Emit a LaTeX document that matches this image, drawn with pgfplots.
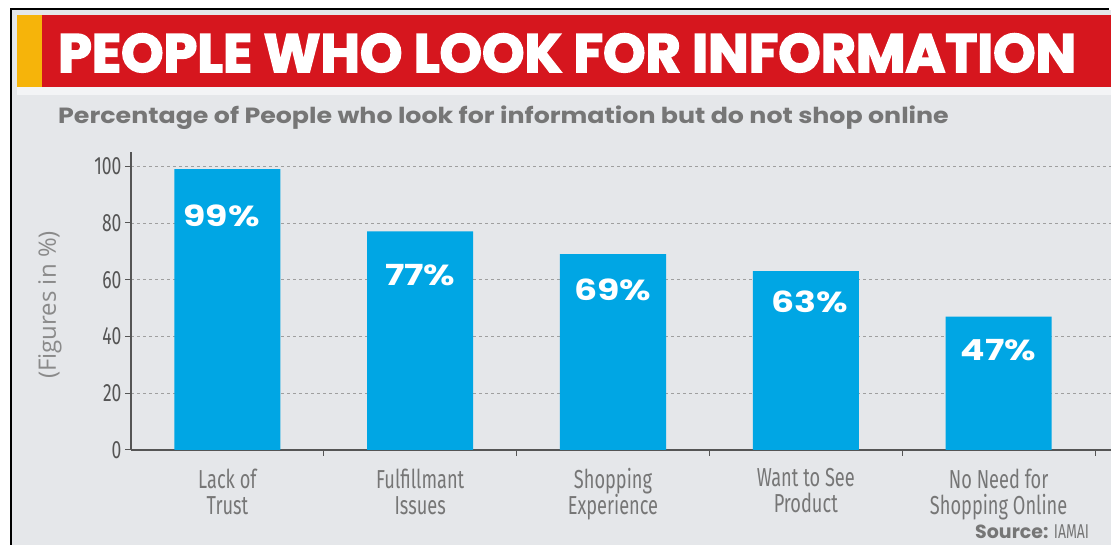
\documentclass[border=0pt]{standalone}
\usepackage{pgfplots}
\pgfplotsset{compat=1.18}
\usepackage{fontspec}
\setmainfont{Open Sans}
\newfontfamily\condfont[FakeStretch=0.7]{Fira Sans}
\newfontfamily\geofont{Poppins}
\newfontfamily\widefont[FakeStretch=1.15]{Poppins}
\newfontfamily\labfont[FakeStretch=1.25]{Poppins}
\newfontfamily\heavyfont[FakeBold=3]{Poppins}

\definecolor{panel}{RGB}{229,231,234}
\definecolor{hdred}{RGB}{214,22,30}
\definecolor{hdyel}{RGB}{246,180,10}
\definecolor{barblue}{RGB}{0,166,228}
\definecolor{txtgray}{RGB}{118,118,118}
\definecolor{axgray}{RGB}{85,85,85}

\begin{document}
\begin{tikzpicture}
\path[use as bounding box] (0pt,0pt) rectangle (1111pt,545pt);
\clip (0pt,0pt) rectangle (1111pt,545pt);
\fill[white] (0pt,0pt) rectangle (1111pt,545pt);
\fill[panel] (12pt,0pt) rectangle (1111pt,535pt);
\fill[black] (10pt,0pt) rectangle (12pt,537pt);
\fill[black] (10pt,535pt) rectangle (1109pt,537pt);
% header band
\fill[white!55!panel] (17pt,450pt) rectangle (1111pt,458pt);
\fill[hdyel] (17pt,458pt) rectangle (42pt,530pt);
\fill[hdred] (42pt,458pt) rectangle (1111pt,530pt);
\node[anchor=base west, inner sep=0pt, text=white,
  font=\heavyfont\bfseries\fontsize{54}{56}\selectfont] at (58pt,473pt)
  {PEOPLE WHO LOOK FOR INFORMATION};
\node[anchor=base west, inner sep=0pt, text=txtgray,
  font=\widefont\bfseries\fontsize{22}{24}\selectfont] at (58pt,421pt)
  {Percentage of People who look for information but do not shop online};
\node[rotate=90, inner sep=0pt, text=txtgray!85,
  font=\fontsize{24}{26}\selectfont] at (50pt,240pt) {(Figures in \%)};
\node[anchor=base west, inner sep=0pt, text=txtgray,
  font=\geofont\bfseries\fontsize{19}{21}\selectfont] at (975pt,6pt)
  {Source: {\condfont\mdseries\fontsize{20}{22}\selectfont IAMAI}};

\begin{axis}[
  at={(131pt,95pt)}, anchor=south west,
  scale only axis, width=980pt, height=298pt,
  xmin=-0.5, xmax=4.583, ymin=0, ymax=105,
  axis x line*=bottom, axis y line*=left,
  axis line style={axgray, line width=1.3pt},
  ybar, bar width=0.55,
  ytick={0,20,40,60,80,100},
  ymajorgrids, grid style={dashed, gray!75, line width=0.6pt},
  tick align=outside, major tick length=6pt,
  tick style={axgray, line width=1pt},
  xtick={0.5,1.5,2.5,3.5,4.5}, xticklabels={},
  extra x ticks={0,1,2,3,4},
  extra x tick labels={{Lack of\\Trust},{Fulfillmant\\Issues},{Shopping\\Experience},{Want to See\\Product},{No Need for\\Shopping Online}},
  extra x tick style={major tick length=0pt, grid=none},
  x tick label style={align=center, text=txtgray, yshift=-15pt,
    font=\condfont\fontsize{26}{26}\selectfont},
  y tick label style={text=axgray, font=\condfont\fontsize{25}{26}\selectfont},
  /pgf/number format/assume math mode=true,
  clip=false,
]
\addplot[fill=barblue, draw=none] coordinates {(0,99) (1,77) (2,69) (3,63) (4,47)};
\begin{scope}[every node/.style={text=white, font=\labfont\bfseries\fontsize{29}{30}\selectfont}]
\node at (axis cs:-0.03,82.4) {99\%};
\node at (axis cs:1,61.6) {77\%};
\node at (axis cs:2,56.3) {69\%};
\node at (axis cs:3.02,52.1) {63\%};
\node at (axis cs:4,35.2) {47\%};
\end{scope}
\end{axis}
\end{tikzpicture}
\end{document}
